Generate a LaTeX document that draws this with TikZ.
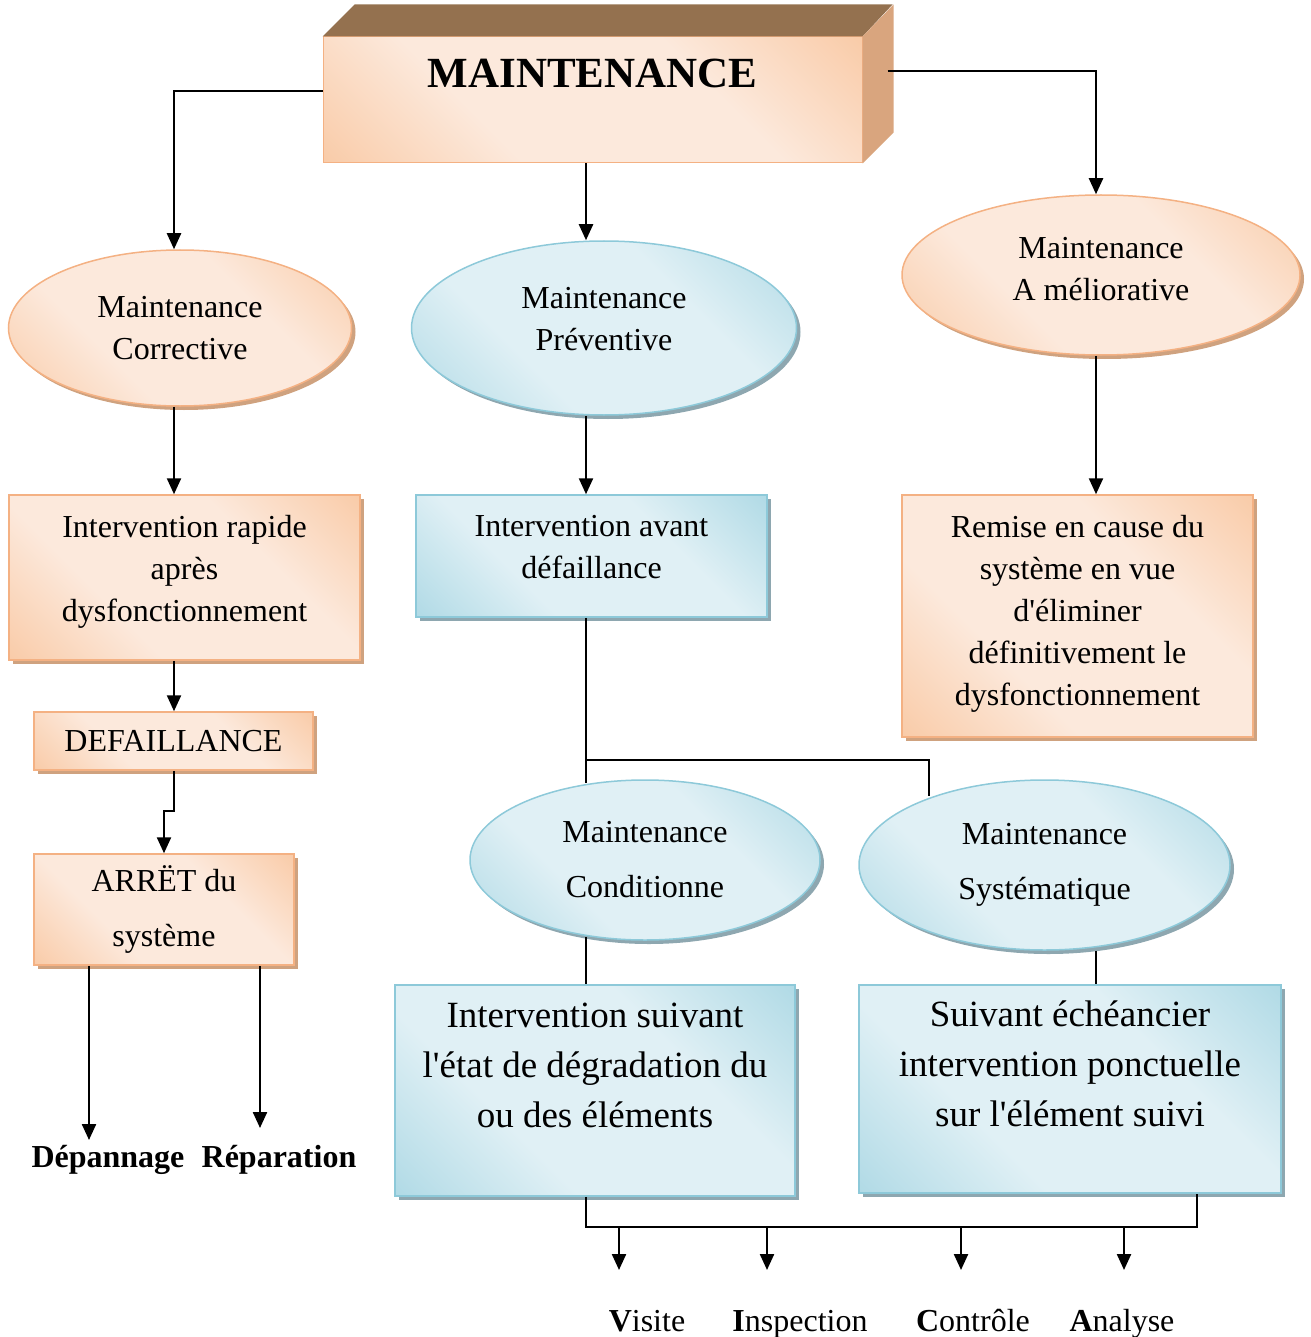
\documentclass[tikz,border=0pt]{standalone}
\usepackage{fontspec}
\setmainfont{Liberation Serif}[Ligatures=TeXOff]
\usetikzlibrary{shapes.geometric,shadows,arrows.meta,calc}
\definecolor{orD}{HTML}{F7B785}
\definecolor{orL}{HTML}{FCE9DC}
\definecolor{orB}{HTML}{F4B183}
\definecolor{orS}{HTML}{CFA27F}
\definecolor{blD}{HTML}{90CBDB}
\definecolor{blL}{HTML}{E0F0F5}
\definecolor{blB}{HTML}{8DC9D9}
\definecolor{blS}{HTML}{8EA7B0}
\definecolor{brT}{HTML}{94714F}
\definecolor{brS}{HTML}{D9A57E}
\pgfdeclarehorizontalshading{orsh}{100bp}{color(0bp)=(orD); color(36bp)=(orL); color(64bp)=(orL); color(100bp)=(orD)}
\pgfdeclarehorizontalshading{blsh}{100bp}{color(0bp)=(blD); color(36bp)=(blL); color(64bp)=(blL); color(100bp)=(blD)}
\tikzset{
  base/.style={draw, line width=1.5pt, align=center, inner sep=0pt, font=\fontsize{32}{42}\selectfont},
  orfill/.style={draw=orB, shading=orsh, shading angle=45,
     drop shadow={shadow xshift=4pt, shadow yshift=-4pt, fill=orS, opacity=1}},
  blfill/.style={draw=blB, shading=blsh, shading angle=45,
     drop shadow={shadow xshift=4pt, shadow yshift=-4pt, fill=blS, opacity=1}},
  orbox/.style={base, rectangle, orfill},
  blbox/.style={base, rectangle, blfill},
  orell/.style={base, ellipse, orfill},
  blell/.style={base, ellipse, blfill},
  arr/.style={line width=2.3pt, -{Triangle[length=16pt,width=14pt]}},
  ln/.style={line width=1.8pt},
  lab/.style={font=\fontsize{32}{36}\selectfont, inner sep=0pt, anchor=base}
}
\begin{document}
\begin{tikzpicture}[x=1pt,y=-1pt]
\useasboundingbox (0,0) rectangle (1310,1337);
% columns
\coordinate (xL) at (174,0);
\coordinate (xM) at (586,0);
\coordinate (xR) at (1096,0);
\coordinate (xS) at (929,0);
\coordinate (xB) at (1197,0);
\coordinate (xD) at (89,0);
\coordinate (xE) at (260,0);
\coordinate (xV) at (619,0);
\coordinate (xI) at (767,0);
\coordinate (xC) at (961,0);
\coordinate (xA) at (1124,0);
\coordinate (y1) at (0,760);
\coordinate (yb) at (0,1227);

% top 3D box
\node[rectangle, draw=orB, line width=1pt, shading=orsh, shading angle=45,
      minimum width=539, minimum height=126] (top) at (592.5,100) {};
\fill[brT] (top.north west) -- ++(32,-32) -- ++(538,0) -- (top.north east) -- cycle;
\fill[brS] (top.north east) -- ++(31,-32) -- ++(0,128) -- (top.south east) -- cycle;
\node[font=\fontsize{43}{48}\selectfont\bfseries] (toptxt) at ([yshift=27pt]top.center) {MAINTENANCE};

% ellipses level 1
\node[orell, minimum width=343, minimum height=156] (corr) at (180,328) {Maintenance\\Corrective};
\node[blell, minimum width=385, minimum height=174] (prev) at (604,328) {Maintenance\\Préventive\\[-24pt]\mbox{}};
\node[orell, minimum width=398, minimum height=160] (amel) at (1101,275) {Maintenance\\A méliorative\\[-30pt]\mbox{}};

% boxes level 2
\node[orbox, minimum width=351, minimum height=165] (rap) at (184.5,577.5) {Intervention rapide\\après\\dysfonctionnement\\[-24pt]\mbox{}};
\node[blbox, minimum width=351, minimum height=122] (ava) at (591.5,556) {Intervention avant\\défaillance\\[-24pt]\mbox{}};
\node[orbox, minimum width=351, minimum height=242] (rem) at (1077.5,616) {Remise en cause du\\système en vue\\d'éliminer\\définitivement le\\dysfonctionnement\\[-30pt]\mbox{}};

% corrective chain
\node[orbox, minimum width=279, minimum height=58] (def) at (173.5,741) {DEFAILLANCE};
\node[orbox, minimum width=260, minimum height=111, font=\fontsize{32}{55}\selectfont] (arret) at (164,909.5) {ARRËT du\\système};
\node[lab, font=\fontsize{32}{36}\selectfont\bfseries] (dep) at (108,1167) {Dépannage};
\node[lab, font=\fontsize{32}{36}\selectfont\bfseries] (rep) at (279,1167) {Réparation};

% preventive branch
\node[blell, minimum width=350, minimum height=160, font=\fontsize{32}{55}\selectfont] (cond) at (645,860) {Maintenance\\Conditionne};
\node[blell, minimum width=371, minimum height=170, font=\fontsize{32}{55}\selectfont] (syst) at (1044.5,865) {Maintenance\\Systématique};
\node[blbox, minimum width=400, minimum height=211, font=\fontsize{37}{50}\selectfont] (bi1) at (595,1090.5) {Intervention suivant\\l'état de dégradation du\\ou des éléments\\\mbox{}};
\node[blbox, minimum width=422, minimum height=208, font=\fontsize{37}{50}\selectfont] (bi2) at (1070,1089) {Suivant échéancier\\intervention ponctuelle\\sur l'élément suivi\\\mbox{}};

% bottom labels
\node[lab] (vis) at (647,1331) {\textbf{V}isite};
\node[lab] (ins) at (800,1331) {\textbf{I}nspection};
\node[lab] (con) at (973,1331) {\textbf{C}ontrôle};
\node[lab] (ana) at (1122,1331) {\textbf{A}nalyse};

% connectors
\draw[arr] ([yshift=9pt]top.west) -| (corr.north -| xL);
\draw[arr] (top.south -| xM) -- (prev.north -| xM);
\draw[arr] ([xshift=25pt,yshift=29pt]top.east) -| (amel.north -| xR);

\draw[arr] (corr.south -| xL) -- (rap.north -| xL);
\draw[arr] (prev.south -| xM) -- (ava.north -| xM);
\draw[arr] (amel.south -| xR) -- (rem.north -| xR);

\draw[arr] (rap.south -| xL) -- (def.north -| xL);
\draw[arr] (def.south -| xL) -- ++(0,40) -| (arret.north);
\draw[arr] (arret.south -| xD) -- ([yshift=27pt]dep.base -| xD);
\draw[arr] (arret.south -| xE) -- ([yshift=39pt]rep.base -| xE);

\draw[ln] (ava.south -| xM) -- ([yshift=-4pt]cond.north -| xM);
\draw[ln] (xM |- y1) -| ([yshift=-17pt]syst.north -| xS);
\draw[ln] ([yshift=4pt]cond.south -| xM) -- (bi1.north -| xM);
\draw[ln] (syst.south -| xR) -- (bi2.north -| xR);

\draw[ln] (bi1.south -| xM) -- (xM |- yb) -- (xB |- yb) -- (bi2.south -| xB);
\draw[arr] (xV |- yb) -- ([yshift=61pt]vis.base -| xV);
\draw[arr] (xI |- yb) -- ([yshift=61pt]ins.base -| xI);
\draw[arr] (xC |- yb) -- ([yshift=61pt]con.base -| xC);
\draw[arr] (xA |- yb) -- ([yshift=61pt]ana.base -| xA);
\end{tikzpicture}
\end{document}
